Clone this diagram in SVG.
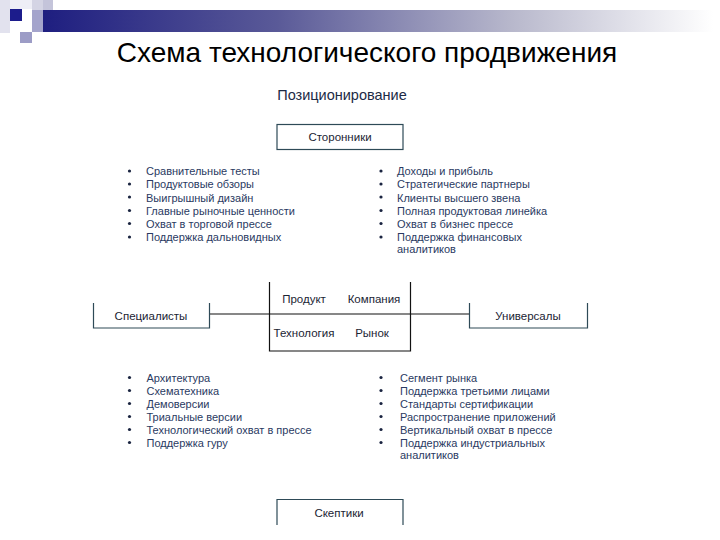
<svg xmlns="http://www.w3.org/2000/svg" width="720" height="540" viewBox="0 0 720 540">
<defs>
<linearGradient id="bar" x1="0" y1="0" x2="1" y2="0">
<stop offset="0" stop-color="#1e1e80"/>
<stop offset="0.35" stop-color="#5a5a98"/>
<stop offset="0.7" stop-color="#b8b8cc"/>
<stop offset="1" stop-color="#ffffff"/>
</linearGradient>
<style>
.title{font-family:"Liberation Sans",Arial,sans-serif;font-size:28px;fill:#000}
.head{font-family:"Liberation Sans",Arial,sans-serif;font-size:14.5px;fill:#1c2a45}
.lbl{font-family:"Liberation Sans",Arial,sans-serif;font-size:11.5px;fill:#1b2433;text-anchor:middle}
.li{font-family:"Liberation Sans",Arial,sans-serif;font-size:11px;fill:#2a3a62}
.bul{fill:#1a2440}
.box{fill:none;stroke:#2e4a57;stroke-width:1.2}
.ln{fill:none;stroke:#111;stroke-width:1.2}
</style>
</defs>
<rect width="720" height="540" fill="#fff"/>
<g id="header">
<rect x="0" y="0" width="10" height="33" fill="#e2e2ee"/>
<rect x="10" y="0" width="22" height="9" fill="#eeeef6"/>
<rect x="32" y="0" width="21" height="10" fill="#d4d4e4"/>
<rect x="43" y="0" width="10" height="20" fill="#c4c4da"/>
<rect x="10" y="9" width="12" height="12" fill="#1c1c8c"/>
<rect x="32" y="10" width="11" height="22" fill="#a4a4cc"/>
<rect x="20" y="32" width="12" height="11" fill="#9c9cc6"/>
<rect x="43" y="10" width="670" height="22" fill="url(#bar)"/>
<text class="title" x="367" y="62" text-anchor="middle">Схема технологического продвижения</text>
</g>
<text class="head" x="342" y="100" text-anchor="middle">Позиционирование</text>
<g id="connectors">
<line class="ln" x1="209.5" y1="314" x2="469.5" y2="314"/>
</g>
<g id="storonniki">
<rect class="box" x="277" y="124.5" width="126" height="25"/>
<text class="lbl" x="340" y="141">Сторонники</text>
</g>
<g id="specialisty">
<path class="box" d="M93.5 303 V328 H209.5 V303"/>
<text class="lbl" x="151" y="320">Специалисты</text>
</g>
<g id="universaly">
<path class="box" d="M469.5 303 V328 H587.5 V303"/>
<text class="lbl" x="528" y="320">Универсалы</text>
</g>
<g id="center">
<path class="ln" d="M269.5 282 V351 H410.5 V282"/>
<text class="lbl" x="304" y="303">Продукт</text>
<text class="lbl" x="374" y="303">Компания</text>
<text class="lbl" x="304" y="337">Технология</text>
<text class="lbl" x="372" y="337">Рынок</text>
</g>
<g id="skeptiki">
<path class="box" d="M277 525 V499.5 H403 V525"/>
<text class="lbl" x="339" y="517">Скептики</text>
</g>
<g id="list-top-left">
<circle class="bul" cx="129.5" cy="171" r="1.6"/>
<circle class="bul" cx="129.5" cy="184" r="1.6"/>
<circle class="bul" cx="129.5" cy="197" r="1.6"/>
<circle class="bul" cx="129.5" cy="210.5" r="1.6"/>
<circle class="bul" cx="129.5" cy="223.5" r="1.6"/>
<circle class="bul" cx="129.5" cy="237" r="1.6"/>
<text class="li" x="146" y="175">Сравнительные тесты</text>
<text class="li" x="146" y="188">Продуктовые обзоры</text>
<text class="li" x="146" y="201.5">Выигрышный дизайн</text>
<text class="li" x="146" y="214.5">Главные рыночные ценности</text>
<text class="li" x="146" y="227.5">Охват в торговой прессе</text>
<text class="li" x="146" y="241">Поддержка дальновидных</text>
</g>
<g id="list-top-right">
<circle class="bul" cx="381" cy="171" r="1.6"/>
<circle class="bul" cx="381" cy="184" r="1.6"/>
<circle class="bul" cx="381" cy="197" r="1.6"/>
<circle class="bul" cx="381" cy="210.5" r="1.6"/>
<circle class="bul" cx="381" cy="223.5" r="1.6"/>
<circle class="bul" cx="381" cy="237" r="1.6"/>
<text class="li" x="397" y="175">Доходы и прибыль</text>
<text class="li" x="397" y="188">Стратегические партнеры</text>
<text class="li" x="397" y="201.5">Клиенты высшего звена</text>
<text class="li" x="397" y="214.5">Полная продуктовая линейка</text>
<text class="li" x="397" y="227.5">Охват в бизнес прессе</text>
<text class="li" x="397" y="241">Поддержка финансовых</text>
<text class="li" x="397" y="253">аналитиков</text>
</g>
<g id="list-bottom-left">
<circle class="bul" cx="129.5" cy="377.5" r="1.6"/>
<circle class="bul" cx="129.5" cy="390.5" r="1.6"/>
<circle class="bul" cx="129.5" cy="403.5" r="1.6"/>
<circle class="bul" cx="129.5" cy="416.5" r="1.6"/>
<circle class="bul" cx="129.5" cy="429.5" r="1.6"/>
<circle class="bul" cx="129.5" cy="442.5" r="1.6"/>
<text class="li" x="146.5" y="381.5">Архитектура</text>
<text class="li" x="146.5" y="394.5">Схематехника</text>
<text class="li" x="146.5" y="407.5">Демоверсии</text>
<text class="li" x="146.5" y="420.5">Триальные версии</text>
<text class="li" x="146.5" y="433.5">Технологический охват в прессе</text>
<text class="li" x="146.5" y="446.5">Поддержка гуру</text>
</g>
<g id="list-bottom-right">
<circle class="bul" cx="381" cy="377.5" r="1.6"/>
<circle class="bul" cx="381" cy="390.5" r="1.6"/>
<circle class="bul" cx="381" cy="403.5" r="1.6"/>
<circle class="bul" cx="381" cy="416.5" r="1.6"/>
<circle class="bul" cx="381" cy="429.5" r="1.6"/>
<circle class="bul" cx="381" cy="442.5" r="1.6"/>
<text class="li" x="400" y="381.5">Сегмент рынка</text>
<text class="li" x="400" y="394.5">Поддержка третьими лицами</text>
<text class="li" x="400" y="407.5">Стандарты сертификации</text>
<text class="li" x="400" y="420.5">Распространение приложений</text>
<text class="li" x="400" y="433.5">Вертикальный охват в прессе</text>
<text class="li" x="400" y="446.5">Поддержка индустриальных</text>
<text class="li" x="400" y="459">аналитиков</text>
</g>
</svg>
